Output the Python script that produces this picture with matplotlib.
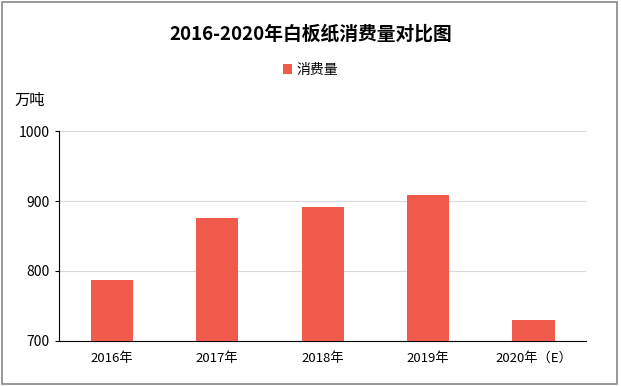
import matplotlib.pyplot as plt
from matplotlib.patches import Rectangle

plt.rcParams['font.family'] = ['Noto Sans CJK SC', 'DejaVu Sans']

years = ['2016年', '2017年', '2018年', '2019年', '2020年（E）']
consumption = [787, 876, 891, 909, 730]
y_ticks = [700, 800, 900, 1000]

fig = plt.figure(figsize=(6.21, 3.86), dpi=100)
ax = fig.add_axes([0.095, 0.1166, 0.849, 0.544])

x = list(range(len(years)))
bars = ax.bar(x, consumption, width=0.4, color='#F15B4C', label='消费量', zorder=3)

ax.set_ylim(700, 1000)
ax.set_xlim(-0.5, len(years) - 0.5)
ax.set_yticks(y_ticks)
ax.set_xticks(x)
ax.set_xticklabels(years, fontsize=9.5)
ax.tick_params(axis='y', labelsize=10, length=3, width=0.8)
ax.tick_params(axis='x', length=0, pad=8)
ax.grid(axis='y', color='#D9D9D9', linewidth=0.8, zorder=0)
for s in ['top', 'right']:
    ax.spines[s].set_visible(False)
ax.spines['left'].set_color('black')
ax.spines['bottom'].set_color('black')

fig.text(0.5, 0.912, '2016-2020年白板纸消费量对比图', ha='center', va='center',
         fontsize=13.5, fontweight='bold')
fig.legend(handles=[bars], labels=['消费量'], loc='center', bbox_to_anchor=(0.5, 0.819),
           frameon=False, fontsize=10, handlelength=0.7, handleheight=0.7, handletextpad=0.3)
fig.text(0.024, 0.741, '万吨', ha='left', va='center', fontsize=11)

fig.patches.append(Rectangle((0.004, 0.006), 0.99, 0.988, transform=fig.transFigure,
                             fill=False, edgecolor='#888888', linewidth=1.2))

fig.savefig('out.png', dpi=100)
